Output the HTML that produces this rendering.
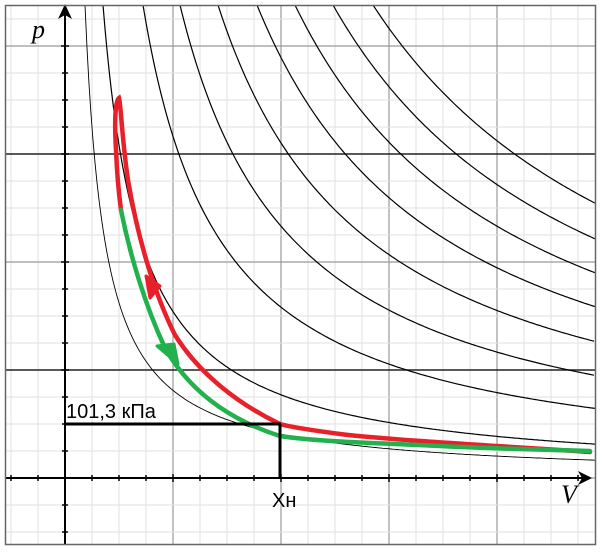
<!DOCTYPE html>
<html><head><meta charset="utf-8"><style>body{margin:0;background:#fff}svg{display:block}</style></head><body>
<svg width="602" height="555" viewBox="0 0 602 555" xmlns="http://www.w3.org/2000/svg">
<rect x="0" y="0" width="602" height="555" fill="#fff"/>
<g id="grid"></g>
<g id="curves" fill="none" stroke="#000" stroke-width="1.2"></g>
<!-- axes -->
<line x1="5" y1="478" x2="588" y2="478" stroke="#000" stroke-width="2"/>
<line x1="65" y1="545" x2="65" y2="14" stroke="#000" stroke-width="2"/>
<path d="M592,478 L578,471 L582,478 L578,485 Z" fill="#000"/>
<path d="M65,4 L58,19 L65,15 L72,19 Z" fill="#000"/>
<g id="ticks" stroke="#000" stroke-width="1.5"></g>
<rect x="5.5" y="5.5" width="590" height="539" fill="none" stroke="#666" stroke-width="1.5"/>
<!-- red -->
<path d="M590,452 C500,446 390,440 340,434 C310,430 290,427 280,424 C240,405 200,375 175,335 C155,295 138,240 128,180 C122,140 121,105 119,98 C116,100 114,115 116,150 C117,175 119,195 121,210" fill="none" stroke="#e8202a" stroke-width="4.5" stroke-linecap="round"/>
<path d="M150,298 L146,276 L160,286 Z" fill="#e8202a" stroke="#e8202a" stroke-width="3" stroke-linejoin="round"/>
<!-- green -->
<path d="M121,210 C130,255 145,305 165,348 C190,392 230,420 280,436 C320,442 380,443 440,446 C500,449 560,450 590,451" fill="none" stroke="#22b14c" stroke-width="4.5" stroke-linecap="round"/>
<path d="M178,364 L157,346 L174,344 Z" fill="#22b14c" stroke="#22b14c" stroke-width="3" stroke-linejoin="round"/>
<!-- Xн lines -->
<line x1="65" y1="424" x2="281" y2="424" stroke="#000" stroke-width="3"/>
<line x1="280" y1="424" x2="280" y2="478" stroke="#000" stroke-width="3"/>
<text x="66" y="418" font-family="Liberation Sans, sans-serif" font-size="20">101,3 кПа</text>
<text x="272" y="507" font-family="Liberation Sans, sans-serif" font-size="20">Xн</text>
<text x="32" y="38" font-family="Liberation Serif, serif" font-style="italic" font-size="26">p</text>
<text x="561" y="503" font-family="Liberation Serif, serif" font-style="italic" font-size="26">V</text>
<script>
var ns="http://www.w3.org/2000/svg";
function el(p,t,a){var e=document.createElementNS(ns,t);for(var k in a)e.setAttribute(k,a[k]);p.appendChild(e);return e;}
var g=document.getElementById('grid');
for(var x=65-27*2;x<596;x+=27){var maj=((x-65)%108===0);if(x<6)continue;el(g,'line',{x1:x,y1:5,x2:x,y2:545,stroke:maj?'#999':'#e2e2e2','stroke-width':maj?1.2:1});}
for(var y=478+54;y>5;y-=27){if(y>545)continue;var maj=((478-y)%108===0);var dark=(y===154||y===370);el(g,'line',{x1:5,y1:y,x2:595,y2:y,stroke:dark?'#222':(maj?'#999':'#e2e2e2'),'stroke-width':dark?1.5:(maj?1.2:1)});}
var c=document.getElementById('curves');
var tops=[85,103,143,180,218,257,295,333,373];
tops.forEach(function(t,i){var k=(t-65)*473;var d='';for(var x=t;x<=595;x+=2){var y=478-k/(x-65);d+=(d?'L':'M')+x.toFixed(1)+','+y.toFixed(1);}el(c,'path',{d:d,'stroke-width':i===0?0.9:1.2});});
var tk=document.getElementById('ticks');
for(var x=11;x<590;x+=27){if(x===65)continue;var maj=((x-65)%108===0);el(tk,'line',{x1:x,y1:478-(maj?4:3),x2:x,y2:478+(maj?4:3)});}
for(var y=532;y>20;y-=27){if(y===478)continue;var maj=((478-y)%108===0);el(tk,'line',{x1:65-(maj?4:3),y1:y,x2:65+(maj?4:3),y2:y});}
</script>
</svg>
</body></html>
